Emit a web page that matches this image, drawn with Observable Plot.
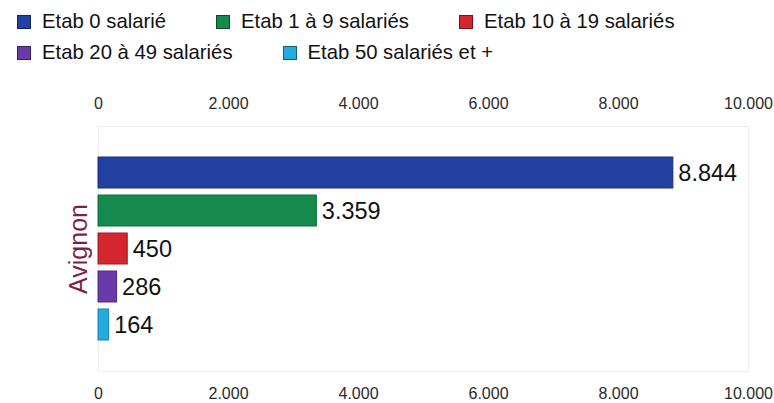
<!DOCTYPE html>
<html><head><meta charset="utf-8">
<script src="https://cdn.jsdelivr.net/npm/d3@7"></script>
<script src="https://cdn.jsdelivr.net/npm/@observablehq/plot@0.6"></script>
<style>
body{margin:0;background:#fff;font-family:"Liberation Sans",Arial,sans-serif;}
#legend{height:68px;box-sizing:border-box;padding:6px 0 0 17px;display:flex;flex-wrap:wrap;column-gap:50px;width:774px;font-size:20.3px;line-height:29px;color:#111;}
.item{display:flex;align-items:center;white-space:nowrap;}
.sw{width:14px;height:14px;margin-right:11px;box-sizing:border-box;border:1px solid rgba(0,0,0,0.45);}
</style></head>
<body><div id="legend"></div><div id="chart"></div>
<script>
const categories = ["Etab 0 salarié","Etab 1 à 9 salariés","Etab 10 à 19 salariés","Etab 20 à 49 salariés","Etab 50 salariés et +"];
const values = [8844, 3359, 450, 286, 164];
const colors = ["#2240a0","#16894c","#d3262e","#6b3aaa","#22ace2"];
const strokes = ["#1a2f78","#0f6a3a","#a01d24","#4d2a80","#1a80a8"];
const ticks = [0,2000,4000,6000,8000,10000];
const group = "Avignon";

const loc = d3.formatLocale({decimal:",", thousands:".", grouping:[3], currency:["","€"]});
const fmt = loc.format(",d");

const data = categories.map((c,i)=>({cat:c, value:values[i], color:colors[i], stroke:strokes[i]}));

const leg = document.getElementById("legend");
categories.forEach((c,i)=>{
  const it=document.createElement("div");it.className="item";
  const sw=document.createElement("span");sw.className="sw";sw.style.background=colors[i];
  const t=document.createElement("span");t.textContent=c;
  it.appendChild(sw);it.appendChild(t);leg.appendChild(it);
});

const chart = Plot.plot({
  width:774, height:335,
  marginTop:58, marginBottom:32, marginLeft:98, marginRight:26,
  style:{fontFamily:"'Liberation Sans', Arial, sans-serif", background:"#fff"},
  x:{domain:[0,10000], ticks:ticks, tickFormat:fmt},
  y:{domain:categories, range:[82,279], padding:0.18, axis:null},
  marks:[
    Plot.frame({stroke:"#eeeeee"}),
    Plot.axisX({anchor:"top", ticks:ticks, tickFormat:fmt, tickSize:0, tickPadding:18, fontSize:16, color:"#2a2a2a", label:null}),
    Plot.axisX({anchor:"bottom", ticks:ticks, tickFormat:fmt, tickSize:0, tickPadding:16, fontSize:16, color:"#2a2a2a", label:null}),
    Plot.barX(data,{x:"value", y:"cat", fill:d=>d.color, stroke:d=>d.stroke, strokeWidth:1}),
    Plot.text(data,{x:"value", y:"cat", text:d=>fmt(d.value), textAnchor:"start", dx:5, fontSize:23.5, fill:"#111"}),
    Plot.text([group],{text:d=>d, frameAnchor:"left", dx:-20, rotate:-90, textAnchor:"middle", fontSize:25, fill:"#7e1f47"})
  ]
});
document.getElementById("chart").appendChild(chart);
</script></body></html>
